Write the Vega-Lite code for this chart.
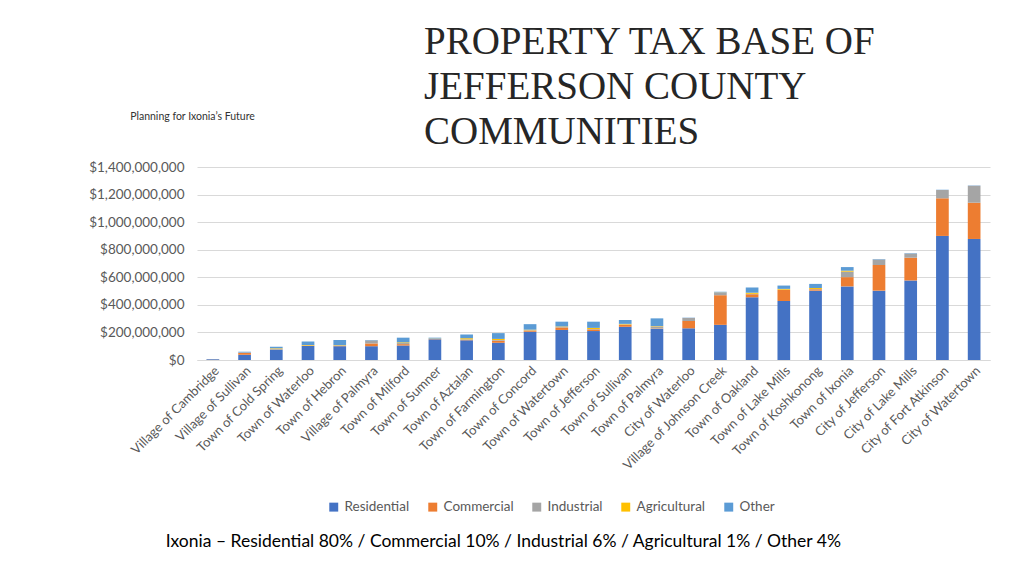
{
  "$schema": "https://vega.github.io/schema/vega-lite/v6.json",
  "background": "white",
  "padding": {"left": 88, "top": 23, "right": 26, "bottom": 10},
  "title": {
    "text": "Ixonia – Residential 80% / Commercial 10% / Industrial 6% / Agricultural 1% / Other 4%",
    "orient": "bottom",
    "anchor": "middle",
    "frame": "bounds",
    "dx": -36,
    "offset": 19,
    "font": "Lato",
    "fontSize": 17.5,
    "fontWeight": "normal",
    "color": "#000000"
  },
  "config": {
    "view": {"stroke": null},
    "font": "Lato"
  },
  "vconcat": [
    {
      "width": 793,
      "height": 193,
      "title": {
        "text": ["PROPERTY TAX BASE OF", "JEFFERSON COUNTY", "COMMUNITIES"],
        "anchor": "start",
        "frame": "group",
        "dx": 227,
        "offset": -41,
        "font": "Liberation Serif",
        "fontSize": 39,
        "lineHeight": 45,
        "fontWeight": "normal",
        "color": "#262626"
      },
      "data": {
        "values": [
          {"community": "Village of Cambridge", "Residential": 5000000, "Commercial": 0, "Industrial": 2000000, "Agricultural": 0, "Other": 0},
          {"community": "Village of Sullivan", "Residential": 38000000, "Commercial": 13000000, "Industrial": 4000000, "Agricultural": 0, "Other": 5000000},
          {"community": "Town of Cold Spring", "Residential": 72000000, "Commercial": 3000000, "Industrial": 6000000, "Agricultural": 4000000, "Other": 12000000},
          {"community": "Town of Waterloo", "Residential": 102000000, "Commercial": 2000000, "Industrial": 2000000, "Agricultural": 3000000, "Other": 25000000},
          {"community": "Town of Hebron", "Residential": 100000000, "Commercial": 2000000, "Industrial": 3000000, "Agricultural": 3000000, "Other": 37000000},
          {"community": "Village of Palmyra", "Residential": 100000000, "Commercial": 20000000, "Industrial": 22000000, "Agricultural": 0, "Other": 3000000},
          {"community": "Town of Milford", "Residential": 105000000, "Commercial": 10000000, "Industrial": 8000000, "Agricultural": 5000000, "Other": 34000000},
          {"community": "Town of Sumner", "Residential": 150000000, "Commercial": 2000000, "Industrial": 2000000, "Agricultural": 2000000, "Other": 6000000},
          {"community": "Town of Aztalan", "Residential": 143000000, "Commercial": 3000000, "Industrial": 4000000, "Agricultural": 8000000, "Other": 27000000},
          {"community": "Town of Farmington", "Residential": 125000000, "Commercial": 15000000, "Industrial": 5000000, "Agricultural": 8000000, "Other": 42000000},
          {"community": "Town of Concord", "Residential": 205000000, "Commercial": 8000000, "Industrial": 3000000, "Agricultural": 4000000, "Other": 40000000},
          {"community": "Town of Watertown", "Residential": 218000000, "Commercial": 18000000, "Industrial": 3000000, "Agricultural": 4000000, "Other": 35000000},
          {"community": "Town of Jefferson", "Residential": 210000000, "Commercial": 12000000, "Industrial": 3000000, "Agricultural": 8000000, "Other": 45000000},
          {"community": "Town of Sullivan", "Residential": 241000000, "Commercial": 14000000, "Industrial": 3000000, "Agricultural": 4000000, "Other": 28000000},
          {"community": "Town of Palmyra", "Residential": 225000000, "Commercial": 3000000, "Industrial": 15000000, "Agricultural": 3000000, "Other": 56000000},
          {"community": "City of Waterloo", "Residential": 230000000, "Commercial": 53000000, "Industrial": 22000000, "Agricultural": 0, "Other": 2000000},
          {"community": "Village of Johnson Creek", "Residential": 255000000, "Commercial": 215000000, "Industrial": 20000000, "Agricultural": 1000000, "Other": 4000000},
          {"community": "Town of Oakland", "Residential": 455000000, "Commercial": 22000000, "Industrial": 3000000, "Agricultural": 8000000, "Other": 38000000},
          {"community": "Town of Lake Mills", "Residential": 428000000, "Commercial": 80000000, "Industrial": 2000000, "Agricultural": 6000000, "Other": 24000000},
          {"community": "Town of Koshkonong", "Residential": 503000000, "Commercial": 10000000, "Industrial": 2000000, "Agricultural": 7000000, "Other": 30000000},
          {"community": "Town of Ixonia", "Residential": 534000000, "Commercial": 67000000, "Industrial": 40000000, "Agricultural": 7000000, "Other": 26000000},
          {"community": "City of Jefferson", "Residential": 503000000, "Commercial": 186000000, "Industrial": 40000000, "Agricultural": 0, "Other": 3000000},
          {"community": "City of Lake Mills", "Residential": 577000000, "Commercial": 165000000, "Industrial": 30000000, "Agricultural": 0, "Other": 3000000},
          {"community": "City of Fort Atkinson", "Residential": 900000000, "Commercial": 273000000, "Industrial": 60000000, "Agricultural": 0, "Other": 2000000},
          {"community": "City of Watertown", "Residential": 878000000, "Commercial": 263000000, "Industrial": 123000000, "Agricultural": 0, "Other": 2000000}
        ]
      },
      "transform": [
        {"fold": ["Residential", "Commercial", "Industrial", "Agricultural", "Other"], "as": ["type", "value"]},
        {"window": [{"op": "row_number", "as": "k"}], "groupby": ["community"]}
      ],
      "mark": {"type": "bar", "width": {"band": 0.4}},
      "encoding": {
        "x": {
          "field": "community",
          "type": "nominal",
          "sort": null,
          "scale": {"paddingInner": 0, "paddingOuter": 0},
          "axis": {
            "title": null,
            "labelAngle": -45,
            "labelFont": "Lato",
            "labelFontSize": 13,
            "labelColor": "#595959",
            "ticks": false,
            "domainColor": "#d9d9d9",
            "labelPadding": 4
          }
        },
        "y": {
          "field": "value",
          "type": "quantitative",
          "stack": "zero",
          "scale": {"domain": [0, 1400000000], "nice": false},
          "axis": {
            "title": "Planning for Ixonia’s Future",
            "titleAngle": 0,
            "titleAlign": "center",
            "titleBaseline": "middle",
            "titleX": -5,
            "titleY": -51,
            "titleFont": "Lato",
            "titleFontSize": 10.5,
            "titleFontWeight": "normal",
            "titleColor": "#333333",
            "values": [0, 200000000, 400000000, 600000000, 800000000, 1000000000, 1200000000, 1400000000],
            "format": "$,.0f",
            "labelFont": "Lato",
            "labelFontSize": 13.5,
            "labelColor": "#595959",
            "labelPadding": 13,
            "ticks": false,
            "domain": false,
            "gridColor": "#d9d9d9"
          }
        },
        "order": {"field": "k", "type": "quantitative", "sort": "ascending"},
        "color": {
          "field": "type",
          "type": "nominal",
          "sort": ["Residential", "Commercial", "Industrial", "Agricultural", "Other"],
          "scale": {
            "domain": ["Residential", "Commercial", "Industrial", "Agricultural", "Other"],
            "range": ["#4472C4", "#ED7D31", "#A5A5A5", "#FFC000", "#5B9BD5"]
          },
          "legend": {
            "title": null,
            "orient": "none",
            "legendX": 130,
            "legendY": 333,
            "direction": "horizontal",
            "symbolType": "square",
            "symbolSize": 80,
            "symbolStrokeWidth": 0,
            "labelFont": "Lato",
            "labelFontSize": 13.5,
            "labelColor": "#595959",
            "labelOffset": 4,
            "columnPadding": 16
          }
        }
      }
    }
  ]
}
